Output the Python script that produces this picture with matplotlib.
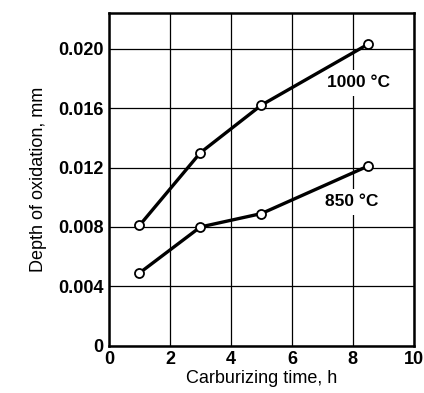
import matplotlib
matplotlib.use("Agg")
import matplotlib.pyplot as plt

plt.rcParams['font.family'] = ['Liberation Sans', 'DejaVu Sans']
plt.rcParams['font.weight'] = 'bold'

# carburizing time, h
time_h = [1, 3, 5, 8.5]
# depth of oxidation, mm
depth_1000 = [0.0081, 0.0130, 0.0162, 0.0203]
depth_850 = [0.0049, 0.0080, 0.0089, 0.0121]

fig = plt.figure(figsize=(4.24, 3.93), dpi=100)
ax = fig.add_axes([0.257, 0.12, 0.719, 0.847])

for d in (depth_1000, depth_850):
    ax.plot(time_h, d, color='black', lw=2.4, marker='o', ms=6.5,
            mfc='white', mec='black', mew=1.3, zorder=5)

# white patch behind the labels so the grid breaks there
box = dict(facecolor='white', edgecolor='none', pad=4)
ax.text(7.15, 0.0177, "1000 °C", fontsize=12.5, ha='left', va='center', bbox=box, zorder=4)
ax.text(7.08, 0.0097, "850 °C", fontsize=12.5, ha='left', va='center', bbox=box, zorder=4)

ax.set_xlim(0, 10)
ax.set_ylim(0, 0.0224)
ax.set_xticks([0, 2, 4, 6, 8, 10])
ax.set_yticks([0, 0.004, 0.008, 0.012, 0.016, 0.020])
ax.set_yticklabels(['0', '0.004', '0.008', '0.012', '0.016', '0.020'])
ax.grid(True, color='black', lw=0.9)
ax.tick_params(length=0, labelsize=13, pad=4)
for s in ax.spines.values():
    s.set_linewidth(1.8)

ax.set_xlabel("Carburizing time, h", fontsize=13, fontweight='normal', labelpad=1)
ax.set_ylabel("Depth of oxidation, mm", fontsize=13, fontweight='normal', labelpad=8)

fig.savefig("out.png", dpi=100)
